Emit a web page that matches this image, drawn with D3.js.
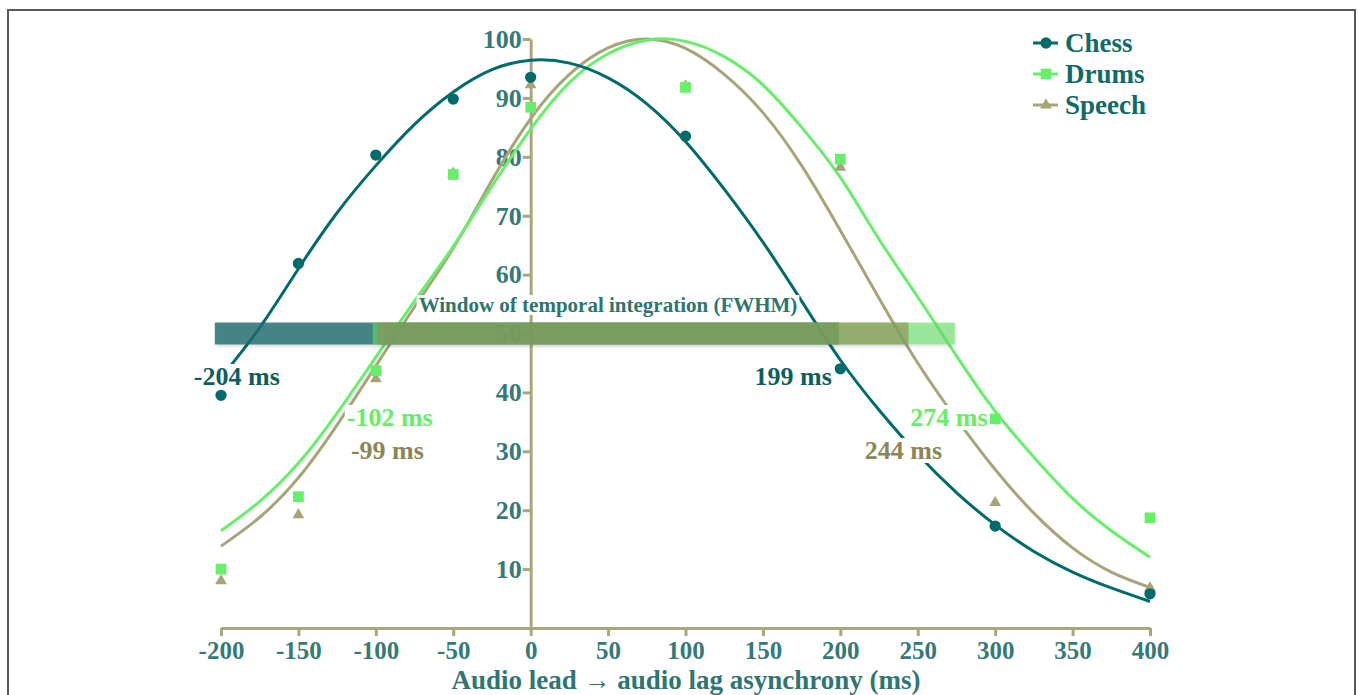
<!DOCTYPE html>
<html>
<head>
<meta charset="utf-8">
<script src="https://cdn.jsdelivr.net/npm/d3@7/dist/d3.min.js"></script>
<style>
  body { margin: 0; background: #fff; }
  svg text { font-family: "Liberation Serif", "Times New Roman", serif; font-weight: bold; }
</style>
</head>
<body>
<svg id="chart" width="1358" height="695"></svg>
<script>
// measured points (ms, % correct)
const delays = [-200, -150, -100, -50, 0, 100, 200, 300, 400];
const chessPts = [39.5, 61.9, 80.3, 89.8, 93.5, 83.5, 44.0, 17.3, 5.8];
const drumsPts = [10.0, 22.3, 43.7, 77.0, 88.4, 91.8, 79.6, 35.5, 18.7];
const speechPts = [8.0, 19.2, 42.3, 77.2, 92.2, 92.0, 78.2, 21.3, 6.8];

// fitted curves, every 25 ms
const fitDelays = [-200, -175, -150, -125, -100, -75, -50, -25, 0, 25, 50, 75, 100,
                   125, 150, 175, 200, 225, 250, 275, 300, 325, 350, 375, 400];
const chessFit = [42.5, 51, 61, 70.5, 78.5, 85.5, 91, 94.8, 96.4, 95.9, 93.4, 89, 82.6,
                  74.5, 65.5, 55.5, 45.5, 37, 29.5, 23, 17.5, 13, 9.5, 6.8, 4.5];
const drumsFit = [16.5, 21.5, 28, 36.5, 46, 55.5, 64.8, 75, 84.7, 92.6, 97.5, 99.8, 99.6,
                  97, 92.2, 85, 76.5, 66, 56.2, 46.2, 36.8, 29, 22, 16.5, 12];
const speechFit = [13.9, 18.8, 25.5, 34.5, 44.5, 54.5, 64.5, 76, 86.5, 94, 98.5, 100, 98.4,
                   94, 87.5, 78.5, 67.5, 56, 45, 35.5, 26.9, 19.5, 13.6, 9.5, 6.9];

// FWHM windows (ms)
const chessWin = [-204, 199];
const drumsWin = [-102, 274];
const speechWin = [-99, 244];

const seriesNames = ['Chess', 'Drums', 'Speech'];
const xTicks = [-200, -150, -100, -50, 0, 50, 100, 150, 200, 250, 300, 350, 400];
const yTicks = [10, 20, 30, 40, 50, 60, 70, 80, 90, 100];

const teal = '#006b6b';
const green = '#66f06a';
const khaki = '#a8a47a';
const axisCol = '#aaa67b';

const svg = d3.select('#chart');

svg.append('rect')
  .attr('x', 8).attr('y', 10)
  .attr('width', 1347).attr('height', 720)
  .attr('fill', 'none')
  .attr('stroke', '#5a5a5a')
  .attr('stroke-width', 2);

const x = d3.scaleLinear().domain([-200, 400]).range([221, 1150]);
const y = d3.scaleLinear().domain([0, 100]).range([628, 39]);

const series = [
  {name: 'Speech', pts: speechPts, fit: speechFit, win: speechWin, color: khaki, label: '#8c8555', sym: d3.symbolTriangle, size: 60},
  {name: 'Drums', pts: drumsPts, fit: drumsFit, win: drumsWin, color: green, label: '#66ee66', sym: d3.symbolSquare, size: 115},
  {name: 'Chess', pts: chessPts, fit: chessFit, win: chessWin, color: teal, label: '#0d5f5d', sym: d3.symbolCircle, size: 100},
];

// axes
const xAxis = svg.append('g')
  .attr('transform', `translate(0,${y(0)})`)
  .call(d3.axisBottom(x).tickValues(xTicks).tickFormat(d => String(d))
    .tickSize(8).tickSizeOuter(0).tickPadding(5));
const yAxis = svg.append('g')
  .attr('transform', `translate(${x(0)},0)`)
  .call(d3.axisLeft(y).tickValues(yTicks).tickFormat(d => String(d))
    .tickSize(8).tickSizeOuter(0).tickPadding(1));

[xAxis, yAxis].forEach(a => {
  a.selectAll('path, line').attr('stroke', axisCol).attr('stroke-width', 3);
  a.selectAll('text')
    .attr('fill', '#357a77')
    .attr('font-size', 26)
    .style('font-family', '"Liberation Serif", serif')
    .style('font-weight', 'bold');
});
xAxis.selectAll('text').attr('font-size', 25);

svg.append('text')
  .attr('x', 686).attr('y', 689)
  .attr('text-anchor', 'middle')
  .attr('font-size', 27)
  .attr('fill', '#2f7571')
  .text('Audio lead \u2192 audio lag asynchrony (ms)');

// fitted curves
const line = d3.line()
  .x((d, i) => x(fitDelays[i]))
  .y(d => y(d))
  .curve(d3.curveNatural);

series.forEach(s => {
  svg.append('path')
    .datum(s.fit)
    .attr('d', line)
    .attr('fill', 'none')
    .attr('stroke', s.color)
    .attr('stroke-width', 3);
});

// FWHM bars
const defs = svg.append('defs');
defs.append('filter').attr('id', 'shadow')
  .attr('x', '-5%').attr('y', '-50%').attr('width', '110%').attr('height', '200%')
  .append('feDropShadow')
  .attr('dx', 1).attr('dy', 2).attr('stdDeviation', 1.5)
  .attr('flood-color', '#000').attr('flood-opacity', 0.18);

const barFill = {Chess: ['#1f6b6e', 0.8], Drums: ['#66dd66', 0.6], Speech: ['#8f8a55', 0.6]};
const bars = svg.append('g').attr('filter', 'url(#shadow)');
['Chess', 'Drums', 'Speech'].forEach(n => {
  const s = series.find(d => d.name === n);
  bars.append('rect')
    .attr('x', x(s.win[0]))
    .attr('y', y(50) - 11)
    .attr('width', x(s.win[1]) - x(s.win[0]))
    .attr('height', 22)
    .attr('fill', barFill[n][0])
    .attr('fill-opacity', barFill[n][1]);
});

// text with a white box behind it
const boxedText = (txt, tx, ty, anchor, size, color) => {
  const g = svg.append('g');
  const t = g.append('text')
    .attr('x', tx).attr('y', ty)
    .attr('text-anchor', anchor)
    .attr('font-size', size)
    .attr('fill', color)
    .text(txt);
  const bb = t.node().getBBox();
  g.insert('rect', 'text')
    .attr('x', bb.x - 2).attr('y', bb.y + 2)
    .attr('width', bb.width + 4).attr('height', bb.height - 4)
    .attr('fill', '#fff');
};

boxedText('Window of temporal integration (FWHM)', 608, 312, 'middle', 21, '#2d756f');

const chessS = series[2], drumsS = series[1], speechS = series[0];
boxedText(`${chessWin[0]} ms`, x(chessWin[0]) + 22, 385, 'middle', 26, chessS.label);
boxedText(`${chessWin[1]} ms`, x(chessWin[1]) - 7, 385, 'end', 26, chessS.label);
boxedText(`${drumsWin[0]} ms`, x(drumsWin[0]) + 17, 426, 'middle', 26, drumsS.label);
boxedText(`${speechWin[0]} ms`, x(speechWin[0]) + 10, 459, 'middle', 26, speechS.label);
boxedText(`${drumsWin[1]} ms`, x(drumsWin[1]) - 6, 426, 'middle', 26, drumsS.label);
boxedText(`${speechWin[1]} ms`, x(speechWin[1]) - 5, 459, 'middle', 26, speechS.label);

// data markers
series.forEach(s => {
  svg.append('g').selectAll('path')
    .data(s.pts)
    .enter().append('path')
    .attr('d', d3.symbol().type(s.sym).size(s.size))
    .attr('transform', (d, i) => `translate(${x(delays[i])},${y(d)})`)
    .attr('fill', s.color);
});

// legend
const legend = svg.append('g').attr('transform', 'translate(1033,43)');
seriesNames.forEach((n, i) => {
  const s = series.find(d => d.name === n);
  const row = legend.append('g').attr('transform', `translate(0,${i * 31})`);
  row.append('line')
    .attr('x1', 0).attr('x2', 25)
    .attr('stroke', s.color).attr('stroke-width', 3);
  row.append('path')
    .attr('d', d3.symbol().type(s.sym).size(s.size))
    .attr('transform', 'translate(13,0)')
    .attr('fill', s.color);
  row.append('text')
    .attr('x', 32).attr('y', 9)
    .attr('font-size', 27)
    .attr('fill', '#0f6b68')
    .text(n);
});
</script>
</body>
</html>
